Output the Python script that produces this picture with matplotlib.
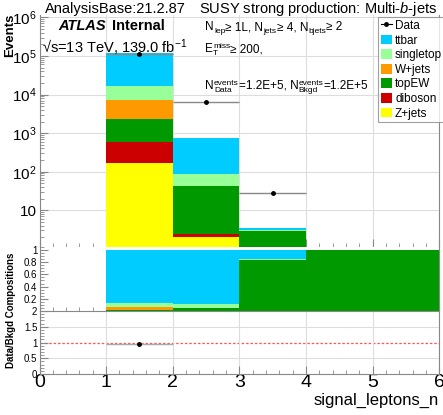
import numpy as np
import matplotlib
matplotlib.use("Agg")
import matplotlib.pyplot as plt
from matplotlib.lines import Line2D
from matplotlib.patches import Patch
from matplotlib.ticker import FixedLocator, MultipleLocator, FuncFormatter, LogLocator, NullFormatter

plt.rcParams['font.family'] = ['Liberation Sans', 'DejaVu Sans']
plt.rcParams['mathtext.fontset'] = 'custom'
plt.rcParams['mathtext.rm'] = 'Liberation Sans'
plt.rcParams['mathtext.it'] = 'Liberation Sans:italic'
plt.rcParams['mathtext.bf'] = 'Liberation Sans:bold'

# Binning of signal_leptons_n
bin_edges = [0, 1, 2, 3, 4, 5, 6]

# Background yields per bin (stack order bottom -> top)
zjets     = [0, 170.0, 2.07, 0.0, 0.0, 0.0]
diboson   = [0, 420.0, 0.32, 0.0, 0.0, 0.0]
topew     = [0, 1700.0, 40.2, 2.95, 0.40, 0.10]
wjets     = [0, 5100.0, 0.0, 0.0, 0.0, 0.0]
singletop = [0, 9600.0, 42.5, 0.05, 0.0, 0.0]
ttbar     = [0, 105000.0, 675.0, 0.55, 0.0, 0.0]

# Observed data per bin
data = [0, 114800.0, 6500.0, 28.0, 0, 0]

bkg_names = ["Z+jets", "diboson", "topEW", "W+jets", "singletop", "ttbar"]
bkg_vals = [zjets, diboson, topew, wjets, singletop, ttbar]
bkg_colors = ["#ffff00", "#cc0000", "#009900", "#ff9900", "#99ff99", "#00ccff"]

edges = np.array(bin_edges, dtype=float)
centers = 0.5 * (edges[:-1] + edges[1:])
widths = np.diff(edges)
stack = np.array(bkg_vals, dtype=float)
total = stack.sum(axis=0)
obs = np.array(data, dtype=float)

W, H = 443, 415
fig = plt.figure(figsize=(W / 100, H / 100), dpi=100)
renderer = fig.canvas.get_renderer()

def fx(px):
    return px / W

def fy(py):
    return 1 - py / H

def rich_text(x, y, pieces, size=8.5, small=6.0, sup_dy=4.0, sub_dy=-2.8):
    """Write ROOT-like text with small stacked super/subscripts.
    x, y are pixel coordinates (from the top-left) of the baseline start."""
    cx = x
    for kind, *parts in pieces:
        if kind == "n":
            t = fig.text(fx(cx), fy(y), parts[0], fontsize=size, ha="left", va="baseline")
            cx += t.get_window_extent(renderer).width
        else:
            adv = 0
            sup, sub = parts
            for s, dy in ((sup, sup_dy), (sub, sub_dy)):
                if s:
                    t = fig.text(fx(cx + 0.3), fy(y - dy), s, fontsize=small,
                                 ha="left", va="baseline")
                    adv = max(adv, t.get_window_extent(renderer).width + 0.3)
            cx += adv

left, right = 39.5, 439.3
ax_main = fig.add_axes([fx(left), fy(246.7), fx(right - left), fy(15) - fy(246.7)])
ax_comp = fig.add_axes([fx(left), fy(311), fx(right - left), fy(246.7) - fy(311)])
ax_rat = fig.add_axes([fx(left), fy(374), fx(right - left), fy(311) - fy(374)])

grey = "#888888"
gridc = "#dddddd"

for ax in (ax_main, ax_comp, ax_rat):
    ax.set_xlim(0, 6)
    for s in ax.spines.values():
        s.set_color(grey)
        s.set_linewidth(0.8)
    ax.tick_params(which="both", direction="in", colors=grey, labelcolor="black",
                   top=False, right=False)
    ax.tick_params(which="major", length=6)
    ax.tick_params(which="minor", length=3)
    ax.xaxis.set_major_locator(MultipleLocator(1))
    ax.xaxis.set_minor_locator(MultipleLocator(0.2))
ax_main.spines["top"].set_visible(False)
ax_comp.spines["top"].set_visible(False)
ax_main.spines["bottom"].set_visible(False)
ax_comp.spines["bottom"].set_visible(False)

# ---- main stacked histogram ----
ax_main.set_yscale("log")
ax_main.set_ylim(1.14, 1.15e6)
bottom = np.full(len(centers), 1e-3)
for name, vals, col in zip(bkg_names, stack, bkg_colors):
    ax_main.bar(edges[:-1], vals, width=widths, bottom=bottom, align="edge",
                color=col, linewidth=0, zorder=2)
    bottom = bottom + vals

ax_main.grid(True, which="major", axis="both", color=gridc, linewidth=0.8, zorder=0)
ax_main.set_axisbelow(True)
ax_main.yaxis.set_major_locator(LogLocator(base=10, numticks=10))
ax_main.yaxis.set_minor_locator(LogLocator(base=10, subs=np.arange(2, 10), numticks=20))
ax_main.yaxis.set_minor_formatter(NullFormatter())

def log_fmt(v, pos):
    e = int(round(np.log10(v)))
    if e == 1:
        return "10"
    if e == 0:
        return ""
    return r"$10^{%d}$" % e

ax_main.yaxis.set_major_formatter(FuncFormatter(log_fmt))
ax_main.tick_params(axis="y", labelsize=11, pad=2)
ax_main.tick_params(axis="x", labelbottom=False)

mask = obs > 0
ax_main.errorbar(centers[mask], obs[mask], xerr=widths[mask] / 2, fmt="o",
                 color="black", ecolor=grey, elinewidth=1.0, markersize=2.5,
                 capsize=0, zorder=4)

fig.text(fx(10), fy(14), "Events", rotation=90, fontsize=9.5, fontweight="bold",
         ha="center", va="top")

# ---- composition panel ----
ax_comp.set_ylim(0, 1.054)
frac = np.divide(stack, total, out=np.zeros_like(stack), where=total > 0)
bottom = np.zeros(len(centers))
for vals, col in zip(frac, bkg_colors):
    ax_comp.bar(edges[:-1], vals, width=widths, bottom=bottom, align="edge",
                color=col, linewidth=0, zorder=2)
    bottom = bottom + vals
ax_comp.yaxis.set_major_locator(FixedLocator([0.2, 0.4, 0.6, 0.8, 1.0]))
ax_comp.yaxis.set_minor_locator(MultipleLocator(0.05))
ax_comp.yaxis.set_major_formatter(FuncFormatter(lambda v, p: "1" if abs(v - 1) < 1e-6 else ("%g" % v)))
ax_comp.tick_params(axis="y", labelsize=7, pad=1.5)
ax_comp.tick_params(axis="x", labelbottom=False)

# ---- ratio panel ----
ax_rat.set_ylim(0, 2)
ax_rat.grid(True, which="major", axis="x", color=gridc, linewidth=0.8, zorder=0)
for yv in (0.5, 1.5):
    ax_rat.axhline(yv, color=gridc, linewidth=0.8, zorder=0)
ax_rat.axhline(1.0, color="#ff5555", linewidth=0.9, linestyle=(0, (2, 1.5)), zorder=1)
ratio = np.divide(obs, total, out=np.zeros_like(obs), where=total > 0)
rmask = (ratio > 0) & (ratio < 2)
ax_rat.errorbar(centers[rmask], ratio[rmask], xerr=widths[rmask] / 2, fmt="o",
                color="black", ecolor="#aaaaaa", elinewidth=1.0, markersize=2.5,
                capsize=0, zorder=4)
ax_rat.yaxis.set_major_locator(FixedLocator([0, 0.5, 1, 1.5, 2]))
ax_rat.yaxis.set_minor_locator(MultipleLocator(0.1))
ax_rat.yaxis.set_major_formatter(FuncFormatter(lambda v, p: "%g" % v))
ax_rat.tick_params(axis="y", labelsize=7, pad=1.5)
ax_rat.tick_params(axis="x", labelsize=14, pad=0)
ax_rat.set_xticks([0, 1, 2, 3, 4, 5, 6])
ax_rat.set_xlabel("signal_leptons_n", fontsize=12, loc="right", labelpad=1)

fig.text(fx(11), fy(310), "Data/Bkgd Compositions", rotation=90, fontsize=7,
         fontweight="bold", ha="center", va="center")

# ---- annotations ----
fig.text(fx(45), fy(9), "AnalysisBase:21.2.87", fontsize=10.5, ha="left", va="center")
fig.text(fx(437), fy(9), r"SUSY strong production: Multi-$\mathit{b}$-jets", fontsize=10.5,
         ha="right", va="center")
fig.text(fx(58), fy(26), "ATLAS", fontsize=10.5, fontweight="bold", fontstyle="italic",
         ha="left", va="center")
fig.text(fx(112), fy(26), "Internal", fontsize=10.5, fontweight="bold", ha="left", va="center")
fig.text(fx(42), fy(48), "√s=13 TeV, 139.0 fb$^{-1}$", fontsize=10.5,
         ha="left", va="center")

rich_text(205, 30, [("n", "N"), ("s", None, "lep"), ("n", "≥ 1L, N"), ("s", None, "jets"),
                    ("n", "≥ 4, N"), ("s", None, "bjets"), ("n", "≥ 2")])
rich_text(205, 52, [("n", "E"), ("s", "miss", "T"), ("n", "≥ 200,")])
rich_text(205, 89, [("n", "N"), ("s", "events", "Data"), ("n", "=1.2E+5, N"),
                    ("s", "events", "Bkgd"), ("n", "=1.2E+5")])

# ---- legend ----
handles = [Line2D([0], [0], color="black", marker="o", markersize=2.5, linewidth=0.8)]
labels = ["Data"]
for name, col in zip(reversed(bkg_names), reversed(bkg_colors)):
    handles.append(Patch(facecolor=col, edgecolor="none"))
    labels.append(name)
leg = fig.legend(handles, labels, loc="upper left", bbox_to_anchor=(fx(378), fy(17)),
                 fontsize=8.5, frameon=True, fancybox=False, borderpad=0.25,
                 labelspacing=0.22, handlelength=0.9, handleheight=0.9,
                 handletextpad=0.3, borderaxespad=0)
leg.get_frame().set_edgecolor(grey)
leg.get_frame().set_linewidth(0.8)

fig.savefig("out.png", dpi=100)
